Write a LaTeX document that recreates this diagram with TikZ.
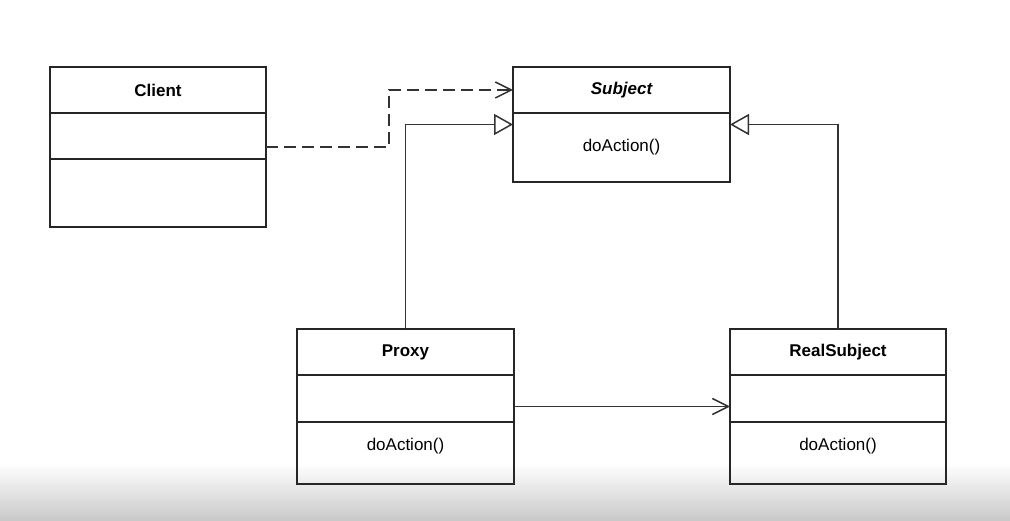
\documentclass[tikz,border=0pt]{standalone}
\usepackage{fontspec}
\setmainfont{Liberation Sans}
\usetikzlibrary{arrows.meta, positioning, calc}

\tikzset{
  classbox/.style={draw=black!85, line width=2.7pt, outer sep=0pt, inner sep=0pt},
  classhead/.style={minimum height=46pt, inner sep=0pt, outer sep=0pt, font=\fontsize{17}{20}\selectfont\bfseries},
  classop/.style={inner sep=0pt, font=\fontsize{17}{20}\selectfont},
  divider/.style={draw=black!85, line width=2.3pt},
  dep/.style={draw=black!80, line width=1.5pt, dash pattern=on 12pt off 6pt, -{Straight Barb[length=16pt,width=16pt,line width=1.5pt]}},
  assoc/.style={draw=black!80, line width=1.5pt, -{Straight Barb[length=16pt,width=16pt,line width=1.5pt]}},
  inherit/.style={draw=black!80, line width=1.5pt, -{Triangle[open,length=19pt,width=21pt,line width=1.5pt]}}
}

\begin{document}
\begin{tikzpicture}[x=1pt, y=1pt]
  \useasboundingbox (0,0) rectangle (1010,520);
  % bottom shadow of the screenshot
  \shade[top color=white, bottom color=gray!42] (0,0) rectangle (1010,57);

  % Client
  \node[classbox, minimum width=216pt, minimum height=160pt] (client) at (158,373) {};
  \node[classhead, minimum width=216pt, anchor=north] (clienthead) at (client.north) {Client};
  \draw[divider] ($(client.north west)+(0,-46)$) -- ($(client.north east)+(0,-46)$);
  \draw[divider] ($(client.north west)+(0,-92)$) -- ($(client.north east)+(0,-92)$);

  % Subject
  \node[classbox, minimum width=217pt, minimum height=115pt] (subject) at (621.5,395.5) {};
  \node[classhead, minimum width=217pt, anchor=north] (subjecthead) at (subject.north) {\itshape Subject};
  \draw[divider] ($(subject.north west)+(0,-46)$) -- ($(subject.north east)+(0,-46)$);
  \node[classop] (subjectop) at ($(subject.north)+(0,-80)$) {doAction()};

  % Proxy
  \node[classbox, minimum width=217pt, minimum height=155pt] (proxy) at (405.5,113.5) {};
  \node[classhead, minimum width=217pt, anchor=north] (proxyhead) at (proxy.north) {Proxy};
  \draw[divider] ($(proxy.north west)+(0,-46)$) -- ($(proxy.north east)+(0,-46)$);
  \draw[divider] ($(proxy.north west)+(0,-93)$) -- ($(proxy.north east)+(0,-93)$);
  \node[classop] (proxyop) at ($(proxy.north)+(0,-117)$) {doAction()};

  % RealSubject
  \node[classbox, minimum width=216pt, minimum height=155pt] (realsubject) at (838,113.5) {};
  \node[classhead, minimum width=216pt, anchor=north] (realsubjecthead) at (realsubject.north) {RealSubject};
  \draw[divider] ($(realsubject.north west)+(0,-46)$) -- ($(realsubject.north east)+(0,-46)$);
  \draw[divider] ($(realsubject.north west)+(0,-93)$) -- ($(realsubject.north east)+(0,-93)$);
  \node[classop] (realsubjectop) at ($(realsubject.north)+(0,-117)$) {doAction()};

  % Relations
  \draw[dep] (client.east) -- ++(123,0) |- (subjecthead.west);
  \draw[inherit] (proxy.north) |- (subject.west);
  \draw[inherit] (realsubject.north) |- (subject.east);
  \draw[assoc] (proxy.east) -- (realsubject.west);
\end{tikzpicture}
\end{document}
